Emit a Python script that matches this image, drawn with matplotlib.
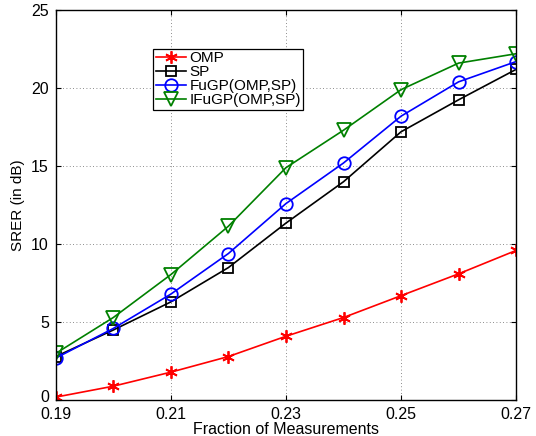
import matplotlib
matplotlib.use("Agg")
import matplotlib.pyplot as plt
import matplotlib.transforms as mtransforms

plt.rcParams['font.family'] = ['Liberation Sans', 'DejaVu Sans']

fraction = [0.19, 0.20, 0.21, 0.22, 0.23, 0.24, 0.25, 0.26, 0.27]
omp = [0.2, 0.9, 1.8, 2.8, 4.1, 5.3, 6.7, 8.1, 9.6]
sp = [2.8, 4.5, 6.3, 8.5, 11.35, 14.0, 17.2, 19.25, 21.2]
fugp = [2.7, 4.6, 6.8, 9.4, 12.6, 15.2, 18.2, 20.4, 21.7]
ifugp = [3.0, 5.3, 8.05, 11.15, 14.9, 17.3, 19.9, 21.6, 22.2]
xticks = [0.19, 0.21, 0.23, 0.25, 0.27]
yticks = [0, 5, 10, 15, 20, 25]

fig = plt.figure(figsize=(5.36, 4.36), dpi=100)
ax = fig.add_axes([0.104, 0.082, 0.859, 0.895])

green = (0, 0.5, 0)
ax.plot(fraction, omp, color='red', marker=(6, 2, 0), markersize=9, mew=1.3, lw=1.2, label='OMP')
ax.plot(fraction, sp, color='black', marker='s', markersize=7, mfc='none', mew=1.3, lw=1.2, label='SP')
ax.plot(fraction, fugp, color='blue', marker='o', markersize=9, mfc='none', mew=1.3, lw=1.2, label='FuGP(OMP,SP)')
ax.plot(fraction, ifugp, color=green, marker='v', markersize=10, mfc='none', mew=1.3, lw=1.2, label='IFuGP(OMP,SP)')

ax.set_xlim(0.19, 0.27)
ax.set_ylim(0, 25)
ax.set_xticks(xticks)
ax.set_xticklabels(['0.19', '0.21', '0.23', '0.25', '0.27'])
ax.set_yticks(yticks)
ax.tick_params(direction='in', top=True, right=True, labelsize=11.5)
ax.tick_params(axis='x', pad=5)
ax.tick_params(axis='y', pad=5)
ax.grid(True, linestyle=(0, (1, 3)), color='black', lw=0.6, alpha=0.6)
ax.set_xlabel('Fraction of Measurements', fontsize=11.5, labelpad=0)
ax.set_ylabel('SRER (in dB)', fontsize=11, labelpad=4)
for s in ax.spines.values():
    s.set_linewidth(1.0)

# nudge the "0" label up a little so it clears "0.19"
lab0 = ax.get_yticklabels()[0]
lab0.set_transform(lab0.get_transform() +
                   mtransforms.ScaledTranslation(0, 3 / 72, fig.dpi_scale_trans))

leg = ax.legend(loc='upper left', bbox_to_anchor=(0.212, 0.9), fontsize=11,
                fancybox=False, edgecolor='black', framealpha=1,
                borderpad=0.15, labelspacing=0.0, handlelength=2.0,
                handletextpad=0.2, borderaxespad=0)
leg.get_frame().set_linewidth(0.9)

fig.savefig('out.png', dpi=100)
